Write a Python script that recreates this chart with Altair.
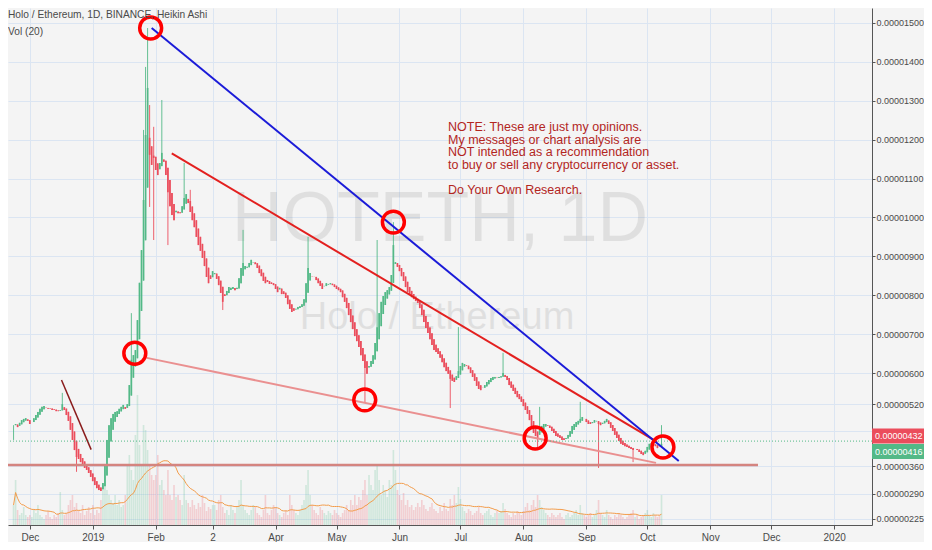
import json
import altair as alt
import pandas as pd

# ---------------- data (prices in units of 1e-8 ETH) ----------------
# daily Heikin-Ashi closes; day 0 = 2018-12-01, first candle = day -8 (2018-11-23)
START_DAY = -8
close_nov = [466, 469, 461, 472, 479, 482, 484, 477]
close_dec = [469, 474, 484, 492, 500, 508, 513, 515, 510, 508, 508, 505, 505, 502, 502, 505, 520, 505, 492, 477,
             454, 428, 402, 384, 379, 371, 364, 356, 351, 343, 333]
close_jan = [322, 312, 304, 299, 297, 317, 364, 428, 466, 484, 495, 500, 502, 508, 513, 518, 508, 520, 569, 634,
             646, 659, 736, 832, 916, 1045, 1212, 1333, 1161, 1135, 1153]
close_feb = [1122, 1109, 1140, 1166, 1143, 1109, 1065, 1029, 1006, 993, 1017, 1011, 1011, 1029, 1050, 1060, 1037,
             1014, 993, 975, 950, 929, 914, 896, 875, 847, 831, 842]
close_mar = [862, 857, 842, 826, 806, 783, 798, 811, 821, 819, 821, 813, 819, 844, 870, 883, 875, 873, 883, 891,
             885, 880, 870, 857, 849, 837, 831, 834, 829, 829, 826]
close_apr = [816, 808, 819, 803, 803, 793, 777, 765, 757, 760, 765, 770, 772, 777, 790, 831, 870, 857, 847, 847,
             839, 831, 824, 816, 824, 831, 829, 831, 826, 821]
close_may = [816, 813, 808, 795, 783, 767, 749, 731, 713, 695, 682, 667, 646, 631, 613, 598, 618, 631, 646, 677,
             718, 754, 783, 798, 808, 813, 821, 852, 929, 885, 873]
close_jun = [862, 849, 837, 821, 808, 801, 795, 790, 785, 780, 767, 749, 731, 716, 703, 687, 672, 659, 654, 649,
             639, 628, 615, 605, 598, 585, 580, 577, 592, 605]
close_jul = [618, 626, 623, 618, 610, 600, 590, 580, 567, 559, 556, 562, 569, 577, 582, 587, 590, 590, 587, 590,
             592, 600, 590, 582, 569, 562, 554, 546, 538, 533, 526]
close_aug = [515, 505, 495, 479, 461, 446, 438, 433, 454, 464, 469, 469, 464, 459, 451, 446, 438, 436, 433, 428,
             428, 433, 441, 451, 464, 469, 474, 477, 482, 487, 482]
close_sep = [474, 469, 469, 474, 479, 477, 469, 466, 472, 477, 482, 469, 459, 451, 441, 433, 425, 418, 415, 412,
             410, 407, 405, 402, 405, 402, 397, 392, 389, 400]
close_oct = [410, 418, 420, 418, 412, 407, 410, 418]

# notable wicks {day: price}
wick_high = {16: 549, 50: 754, 56: 1225, 57: 1387, 58: 1487, 59: 1289, 61: 1233, 65: 1302, 76: 1140, 79: 1071,
             105: 968, 137: 950, 171: 942, 179: 988, 211: 718, 233: 652, 251: 513, 271: 526, 311: 466}
wick_low = {-8: 428, 23: 346, 59: 1027, 61: 942, 68: 929, 95: 762, 165: 523, 207: 510, 250: 407, 280: 356, 297: 371}

# daily volume (millions HOT)
vol_nov = [20, 45, 15, 10, 12, 18, 10, 8]
vol_dec = [10, 8, 15, 12, 20, 10, 8, 6, 10, 14, 8, 6, 10, 8, 12, 33, 15, 10, 12, 20, 25, 30, 18, 22, 15, 12, 20, 10,
           14, 18, 12]
vol_jan = [20, 10, 15, 12, 25, 40, 45, 35, 30, 25, 22, 30, 20, 25, 18, 20, 30, 60, 70, 55, 45, 90, 130, 80, 60, 100,
           95, 75, 60, 50, 45]
vol_feb = [50, 70, 40, 45, 35, 30, 55, 30, 25, 40, 28, 30, 25, 20, 50, 25, 22, 18, 25, 20, 16, 22, 18, 30, 22, 14,
           18, 16]
vol_mar = [20, 20, 15, 25, 30, 18, 12, 15, 10, 20, 15, 12, 18, 25, 45, 20, 15, 12, 10, 15, 20, 18, 12, 10, 8, 15,
           30, 12, 10, 15, 20]
vol_apr = [18, 12, 10, 8, 12, 15, 10, 30, 20, 15, 12, 10, 15, 20, 25, 40, 55, 30, 20, 15, 12, 10, 18, 15, 12, 10,
           14, 12, 10, 15]
vol_may = [12, 10, 8, 12, 15, 20, 15, 25, 20, 30, 20, 28, 25, 35, 45, 30, 50, 40, 35, 55, 60, 45, 30, 40, 35, 28,
           45, 40, 75, 55, 35]
vol_jun = [30, 25, 32, 20, 25, 18, 20, 15, 18, 22, 18, 25, 20, 16, 14, 18, 22, 16, 14, 12, 18, 14, 22, 16, 14, 26,
           20, 30, 22, 38]
vol_jul = [26, 18, 14, 12, 16, 14, 10, 12, 14, 18, 12, 10, 12, 14, 16, 10, 8, 12, 14, 12, 14, 22, 16, 12, 10, 8,
           12, 10, 14, 12, 10]
vol_aug = [14, 18, 22, 15, 20, 25, 18, 30, 25, 18, 15, 12, 10, 8, 12, 10, 8, 10, 12, 8, 6, 10, 12, 8, 10, 12, 15,
           10, 20, 12, 10]
vol_sep = [8, 10, 12, 8, 10, 15, 25, 12, 10, 8, 15, 10, 8, 6, 10, 8, 12, 10, 8, 6, 8, 10, 12, 15, 8, 10, 6, 8, 10, 12]
vol_oct = [15, 10, 8, 12, 10, 8, 10, 30]

# axis ticks
x_tick_days = [0, 31, 62, 90, 121, 151, 182, 212, 243, 274, 304, 335, 365, 396]
x_tick_labels = ["Dec", "2019", "Feb", "2", "Apr", "May", "Jun", "Jul", "Aug", "Sep", "Oct", "Nov", "Dec", "2020"]
y_tick_values = [1500, 1400, 1300, 1200, 1100, 1000, 900, 800, 700, 600, 520, 450, 360, 290, 225]
y_hidden_label = 450  # covered by the price tags

# drawings (day, price)
blue_line = {"day": [60.0, 319.5], "price": [1487, 374]}
red_line = {"day": [69.9, 308.8], "price": [1165, 423]}
pink_line = {"day": [57.6, 308.3], "price": [639, 369]}
brown_line = {"day": [15.6, 30.2], "price": [582, 403]}
support_level = {"day": [-12, 358.5], "price": [363.6, 363.6]}
last_price_line = [425]
circle_days = [59.5, 51.7, 179.0, 164.9, 248.8, 311.7]
circle_prices = [1487, 651, 988, 531, 433, 410]
price_tags = {"price": [432, 416], "label": ["0.00000432", "0.00000416"]}
note_lines = ["NOTE: These are just my opinions.", "My messages or chart analysis are",
              "NOT intended as a recommendation", "to buy or sell any cryptocurrency or asset."]
note_last = "Do Your Own Research."

# ---------------- build tables ----------------
closes = (close_nov + close_dec + close_jan + close_feb + close_mar + close_apr + close_may + close_jun
          + close_jul + close_aug + close_sep + close_oct)
vols = (vol_nov + vol_dec + vol_jan + vol_feb + vol_mar + vol_apr + vol_may + vol_jun + vol_jul + vol_aug
        + vol_sep + vol_oct)
assert len(closes) == len(vols) == 320
rows = []
prev_o, prev_c = None, None
for i, c in enumerate(closes):
    d = START_DAY + i
    o = c if prev_o is None else (prev_o + prev_c) / 2
    hi = max(o, c, wick_high.get(d, 0))
    lo = min(o, c, wick_low.get(d, 10 ** 9))
    rows.append({"day": d, "o": o, "c": c, "hi": hi, "lo": lo, "vol": vols[i],
                 "dir": "up" if c >= o else "down"})
    prev_o, prev_c = o, c
df = pd.DataFrame(rows)

GREEN = "#53b987"
RED = "#eb4d5c"
GRID = "#dbe5f2"
BG = "#f4f4f4"
FONT = "Liberation Sans"
W, H = 864, 517
RPAD = 52
PX_PER_DAY = 2.055
X0 = -8.27

xs = alt.Scale(domain=[X0, X0 + W / PX_PER_DAY], nice=False, zero=False)
ys = alt.Scale(domain=[209.3, 1538.5], nice=False, zero=False)
x_expr = f"{json.dumps(x_tick_labels)}[indexof({json.dumps(x_tick_days)}, datum.value)]"
xaxis = alt.Axis(values=x_tick_days, labelExpr=x_expr, grid=True, gridColor=GRID, gridWidth=1,
                 tickSize=4, tickColor="#555555", domainColor="#555555", labelColor="#4a4a4a",
                 labelFont=FONT, labelFontSize=10, labelPadding=3, title=None)
y_expr = f"datum.value == {y_hidden_label} ? '' : format(datum.value/1e8, '.8f')"
yaxis = alt.Axis(orient="right", values=y_tick_values, labelExpr=y_expr, grid=True,
                 gridColor=GRID, gridWidth=1, tickSize=3, tickColor="#555555", domainColor="#555555",
                 labelColor="#4a4a4a", labelFont=FONT, labelFontSize=9, labelPadding=1, title=None)
X = alt.X("day:Q", scale=xs, axis=xaxis)
Y = alt.Y("price:Q", scale=ys, axis=yaxis)
dir_color = alt.Color("dir:N", scale=alt.Scale(domain=["up", "down"], range=[GREEN, RED]), legend=None)

one = pd.DataFrame({"a": [0]})

watermark1 = alt.Chart(one).mark_text(text="HOTETH, 1D", font=FONT, fontSize=70, color="#000000", opacity=0.08,
                                      align="center", baseline="middle").encode(x=alt.value(432), y=alt.value(212))
watermark2 = alt.Chart(one).mark_text(text="Holo / Ethereum", font=FONT, fontSize=38, color="#000000",
                                      opacity=0.08, align="center", baseline="middle").encode(
    x=alt.value(429), y=alt.value(310))

vol_bars = alt.Chart(df).mark_bar(width=1.6, opacity=0.22).encode(
    x=X, y=alt.Y("vol:Q", scale=alt.Scale(domain=[0, H]), axis=None), color=dir_color)
vol_ma = alt.Chart(df).transform_window(ma="mean(vol)", frame=[-19, 0], sort=[{"field": "day"}]).mark_line(
    color="#f39c4a", strokeWidth=1).encode(x=X, y=alt.Y("ma:Q", scale=alt.Scale(domain=[0, H]), axis=None))
vol_layer = alt.layer(vol_bars, vol_ma)

wicks = alt.Chart(df).mark_rule(strokeWidth=0.9).encode(
    x=X, y=alt.Y("lo:Q", scale=ys, axis=yaxis), y2="hi:Q", color=dir_color)
bodies = alt.Chart(df).mark_rule(strokeWidth=1.7).encode(
    x=X, y=alt.Y("o:Q", scale=ys, axis=yaxis), y2="c:Q", color=dir_color)


def seg(d, color, width):
    return alt.Chart(pd.DataFrame(d)).mark_line(color=color, strokeWidth=width, clip=True).encode(x=X, y=Y)


support = seg(support_level, "#d4847f", 2.5)
pink = seg(pink_line, "#ea9090", 2)
brown = seg(brown_line, "#8a1c1c", 1.5)
red = seg(red_line, "#e3201f", 2)
blue = seg(blue_line, "#1b1bd8", 2)
last_line = alt.Chart(pd.DataFrame({"price": last_price_line})).mark_rule(
    color=GREEN, strokeDash=[1, 2], strokeWidth=1).encode(y=Y)
circles = alt.Chart(pd.DataFrame({"day": circle_days, "price": circle_prices})).mark_point(
    shape="circle", size=480, filled=False, stroke="#ff0000", strokeWidth=3.5, opacity=1).encode(x=X, y=Y)

LH = 12.6
note = alt.Chart(one).mark_text(text=note_lines, font=FONT, fontSize=12.5, lineHeight=LH, color="#b3261e",
                                align="left", baseline="top").encode(x=alt.value(440), y=alt.value(113))
note2 = alt.Chart(one).mark_text(text=note_last, font=FONT, fontSize=12.5, color="#b3261e",
                                 align="left", baseline="top").encode(x=alt.value(440), y=alt.value(113 + 5 * LH))
title1 = alt.Chart(one).mark_text(text="Holo / Ethereum, 1D, BINANCE, Heikin Ashi", font=FONT, fontSize=10.2,
                                  color="#4a4a4a", align="left", baseline="middle").encode(
    x=alt.value(0), y=alt.value(7))
title2 = alt.Chart(one).mark_text(text="Vol (20)", font=FONT, fontSize=10.2, color="#4a4a4a", align="left",
                                  baseline="middle").encode(x=alt.value(0), y=alt.value(24))

half = 7.5 / (RPAD / 2)
BOX = f"M-1,-{half:.4f}L1,-{half:.4f}L1,{half:.4f}L-1,{half:.4f}Z"
tags = pd.DataFrame(price_tags)
tag_red = tags.iloc[[0]]
tag_green = tags.iloc[[1]]
box_r = alt.Chart(tag_red).mark_point(shape=BOX, size=RPAD * RPAD, filled=True, color=RED, opacity=1,
                                      yOffset=-2.5).encode(x=alt.value(W + RPAD / 2), y=Y)
box_g = alt.Chart(tag_green).mark_point(shape=BOX, size=RPAD * RPAD, filled=True, color=GREEN, opacity=1,
                                        yOffset=7).encode(x=alt.value(W + RPAD / 2), y=Y)
txt_r = alt.Chart(tag_red).mark_text(font=FONT, fontSize=9, color="white", align="left", baseline="middle",
                                     yOffset=-2.5).encode(x=alt.value(W + 3), y=Y, text="label:N")
txt_g = alt.Chart(tag_green).mark_text(font=FONT, fontSize=9, color="white", align="left", baseline="middle",
                                       yOffset=7).encode(x=alt.value(W + 3), y=Y, text="label:N")

price_layer = alt.layer(wicks, bodies, support, pink, brown, red, blue, last_line, circles,
                        box_r, box_g, txt_r, txt_g)

chart = alt.layer(watermark1, watermark2, vol_layer, price_layer, note, note2, title1, title2).resolve_scale(
    y="independent").properties(
    width=W, height=H, background=BG,
    autosize=alt.AutoSizeParams(type="none"),
    padding={"left": 0, "top": 0, "right": RPAD, "bottom": 17},
).configure_view(stroke=None, fill=BG)

chart.save("out.html", embed_options={"renderer": "svg", "actions": False})
